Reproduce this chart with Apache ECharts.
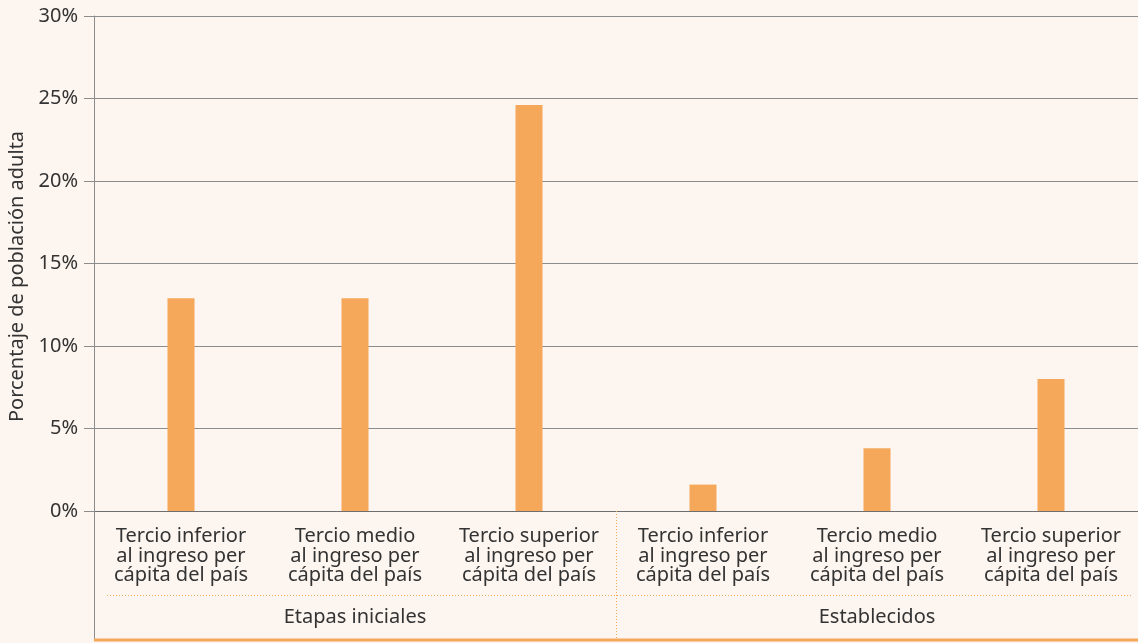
<!DOCTYPE html>
<html>
<head>
<meta charset="utf-8">
<script src="https://cdn.jsdelivr.net/npm/echarts@6/dist/echarts.min.js"></script>
<style>
  html, body { margin: 0; padding: 0; background: #fdf5ef; }
  #chart { width: 1138px; height: 643px; }
</style>
</head>
<body>
<div id="chart"></div>
<script>
// -- Data --
const categories = [
  'Tercio inferior\nal ingreso per\ncápita del país',
  'Tercio medio\nal ingreso per\ncápita del país',
  'Tercio superior\nal ingreso per\ncápita del país',
  'Tercio inferior\nal ingreso per\ncápita del país',
  'Tercio medio\nal ingreso per\ncápita del país',
  'Tercio superior\nal ingreso per\ncápita del país'
];
const groups = ['Etapas iniciales', 'Establecidos'];
const values = [12.9, 12.9, 24.6, 1.6, 3.8, 8.0];
const yTicks = { min: 0, max: 30, interval: 5 };

// -- Theme --
const COLORS = {
  bg: '#fdf5ef',
  bar: '#f5a85a',
  text: '#333333',
  grid: '#8c8c8c',
  axis: '#6e6e6e',
  accent: '#f5a85a'
};
const FONT = '"Noto Sans", "Open Sans", sans-serif';
const FS = 20;

const G = { left: 94, right: 0, top: 16, bottom: 132 };

const chart = echarts.init(document.getElementById('chart'), null, { renderer: 'canvas' });

chart.setOption({
  backgroundColor: COLORS.bg,
  animation: false,
  textStyle: { fontFamily: FONT, color: COLORS.text },
  grid: {
    left: G.left, right: G.right, top: G.top, bottom: G.bottom,
    containLabel: false, outerBoundsMode: 'none'
  },
  xAxis: [
    {
      type: 'category',
      data: categories,
      axisLine: { lineStyle: { color: COLORS.axis, width: 1 } },
      axisTick: { show: false },
      axisLabel: {
        interval: 0, margin: 16, color: COLORS.text,
        fontSize: FS, lineHeight: 19.5, fontFamily: FONT
      }
    },
    {
      type: 'category',
      data: groups,
      position: 'bottom',
      axisLine: { show: false },
      axisTick: {
        show: true, interval: 0, length: 129,
        lineStyle: { color: COLORS.accent, type: [1, 2], width: 1 }
      },
      axisLabel: { margin: 96, color: COLORS.text, fontSize: FS, fontFamily: FONT }
    }
  ],
  yAxis: {
    type: 'value',
    min: yTicks.min, max: yTicks.max, interval: yTicks.interval,
    name: 'Porcentaje de población adulta',
    nameLocation: 'middle',
    nameGap: 67,
    nameTextStyle: { fontSize: FS, color: COLORS.text, fontFamily: FONT, padding: [0, 26, 0, 0] },
    axisLine: { show: true, lineStyle: { color: COLORS.grid } },
    axisTick: { show: true, length: 10, lineStyle: { color: COLORS.grid } },
    axisLabel: { formatter: '{value}%', margin: 16, fontSize: FS, color: COLORS.text, fontFamily: FONT },
    splitLine: { lineStyle: { color: COLORS.grid, width: 1 } }
  },
  series: [{
    type: 'bar',
    data: values,
    xAxisIndex: 0,
    barWidth: 27,
    itemStyle: { color: COLORS.bar }
  }]
});

// Decorative frame below the category axis
const baseY = 643 - G.bottom;
chart.setOption({
  graphic: [
    { type: 'line', z: 10, shape: { x1: G.left + 0.5, y1: baseY, x2: G.left + 0.5, y2: 640 },
      style: { stroke: COLORS.grid, lineWidth: 1 } },
    { type: 'line', z: 10, shape: { x1: 107, y1: 595.5, x2: 1132, y2: 595.5 },
      style: { stroke: COLORS.accent, lineWidth: 1, lineDash: [1, 2] } },
    { type: 'line', z: 10, shape: { x1: G.left, y1: 640, x2: 1138, y2: 640 },
      style: { stroke: COLORS.accent, lineWidth: 3 } }
  ]
});

window.addEventListener('resize', () => chart.resize());
</script>
</body>
</html>
